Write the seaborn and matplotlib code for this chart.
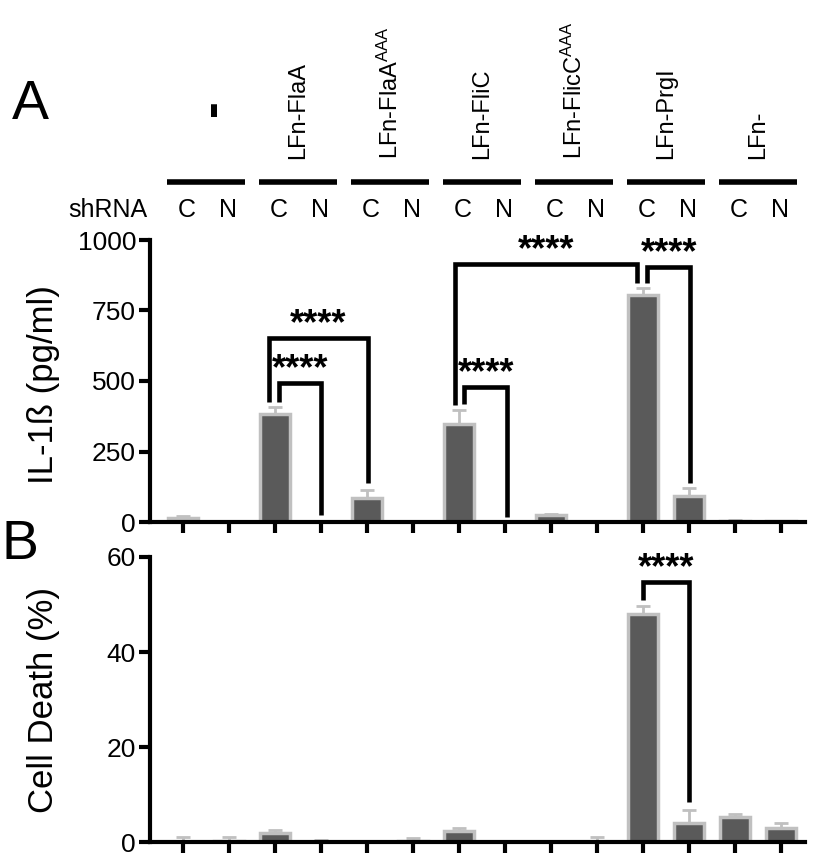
import matplotlib
matplotlib.use("Agg")
import matplotlib.pyplot as plt
import matplotlib.transforms as mtransforms
import seaborn as sns
import pandas as pd

sns.set_style("ticks")
plt.rcParams['font.family'] = ['Liberation Sans', 'DejaVu Sans']
plt.rcParams['mathtext.fontset'] = 'custom'
plt.rcParams['mathtext.rm'] = 'Liberation Sans'
plt.rcParams['mathtext.it'] = 'Liberation Sans'
for key in ['text.color', 'axes.labelcolor', 'xtick.color', 'ytick.color',
            'axes.edgecolor']:
    plt.rcParams[key] = 'black'

# ---------------- data ----------------
groups = ['-', 'LFn-FlaA', r'LFn-FlaA$^{\mathrm{AAA}}$', 'LFn-FliC',
          r'LFn-FlicC$^{\mathrm{AAA}}$', 'LFn-PrgI', 'LFn-']
shrna = ['C', 'N']
bars = [f"{g}|{s}" for g in range(7) for s in shrna]

il1b = [15, 0, 383, 0, 85, 0, 347, 0, 25, 0, 805, 92, 5, 3]
il1b_err = [5, 0, 25, 0, 28, 0, 50, 0, 5, 0, 25, 28, 2, 1]

death = [0.0, 0.3, 1.9, 0.0, 0.0, 0.3, 2.3, 0.0, 0.0, 0.0, 48.1, 4.0, 5.2, 3.0]
death_err = [1.0, 0.7, 0.6, 0.5, 0.0, 0.5, 0.6, 0.0, 0.0, 1.0, 1.5, 2.7, 0.8, 1.0]

il1b_ticks = [0, 250, 500, 750, 1000]
death_ticks = [0, 20, 40, 60]

# brackets: (x_left, x_right, y_top, y_left_bottom, y_right_bottom)
brackets_top = [
    (1.87, 4.02, 652, 425, 138),
    (2.09, 3.00, 493, 425, 25),
    (6.11, 7.05, 480, 420, 18),
    (5.92, 9.87, 915, 415, 847),
    (10.09, 11.03, 905, 847, 138),
]
brackets_bot = [
    (10.0, 11.0, 54.8, 51.0, 8.4),
]

FILL = '#5a5a5a'
EDGE = '#c0c0c0'

W, H = 819, 855
fig = plt.figure(figsize=(W / 100, H / 100), dpi=100)

def fax(l, r, t, b):
    return [l / W, 1 - b / H, (r - l) / W, (b - t) / H]

axA = fig.add_axes(fax(150, 805, 240, 522))
axB = fig.add_axes(fax(150, 805, 557, 842))


def draw(ax, vals, errs, ticks, ylim, brackets):
    df = pd.DataFrame({'bar': bars, 'val': vals})
    sns.barplot(data=df, x='bar', y='val', order=bars, ax=ax, color=FILL,
                edgecolor=EDGE, linewidth=2.5, width=0.66, saturation=1,
                errorbar=None)
    xs = [p.get_x() + p.get_width() / 2 for p in ax.patches]
    ax.errorbar(xs, vals, yerr=[[0] * len(errs), errs], fmt='none',
                ecolor=EDGE, elinewidth=2, capsize=5, capthick=2, zorder=1)
    for p in ax.patches:
        p.set_zorder(2)
    ax.set_xlim(-0.72, 13.52)
    ax.set_ylim(*ylim)
    ax.set_yticks(ticks)
    ax.set_yticklabels([str(t) for t in ticks], fontsize=19)
    ax.set_xticks(range(len(bars)))
    ax.set_xticklabels([])
    ax.set_xlabel('')
    ax.set_ylabel('')
    ax.tick_params(axis='both', direction='out', width=3, length=8,
                   color='black', labelcolor='black', pad=2)
    sns.despine(ax=ax)
    for s in ['left', 'bottom']:
        ax.spines[s].set_linewidth(3)
        ax.spines[s].set_color('black')
    ax.spines['left'].set_bounds(ylim[0], ticks[-1])
    for (xl, xr, yt, ylb, yrb) in brackets:
        ax.plot([xl, xl, xr, xr], [ylb, yt, yt, yrb], color='black', lw=3.3,
                solid_joinstyle='miter', solid_capstyle='butt',
                clip_on=False, zorder=5)
        ax.annotate('****', xy=((xl + xr) / 2, yt), xytext=(0, 2.5),
                    textcoords='offset points', ha='center', va='baseline',
                    fontsize=26, fontweight='bold', color='black',
                    annotation_clip=False)


draw(axA, il1b, il1b_err, il1b_ticks, (0, 1000), brackets_top)
draw(axB, death, death_err, death_ticks, (0, 60), brackets_bot)

fig.text(44 / W, 1 - 385 / H, 'IL-1ß (pg/ml)', rotation=90, ha='center',
         va='center', fontsize=25)
fig.text(44 / W, 1 - 700 / H, 'Cell Death (%)', rotation=90, ha='center',
         va='center', fontsize=25)

# header above panel A
trans = mtransforms.blended_transform_factory(axA.transData, axA.transAxes)
def ay(py):
    return (522 - py) / 282

for g, name in enumerate(groups):
    cx = 2 * g + 0.5
    if name == '-':
        axA.text(cx + 0.15, ay(108), '-', rotation=90, ha='center', va='center',
                 fontsize=36, fontweight='bold', transform=trans, clip_on=False)
    else:
        axA.text(cx, ay(159), name, rotation=90, ha='center', va='bottom',
                 fontsize=17, transform=trans, clip_on=False)
    axA.plot([cx - 0.85, cx + 0.85], [ay(182), ay(182)], color='black', lw=4,
             solid_capstyle='butt', transform=trans, clip_on=False)
    for k, s in enumerate(shrna):
        axA.text(2 * g + k + 0.1 * (1 - k) - 0.02, ay(210), s, ha='center',
                 va='center', fontsize=18, transform=trans, clip_on=False)

fig.text(68 / W, 1 - 210 / H, 'shRNA', ha='left', va='center', fontsize=18)
fig.text(30 / W, 1 - 105 / H, 'A', ha='center', va='center', fontsize=40)
fig.text(20 / W, 1 - 545 / H, 'B', ha='center', va='center', fontsize=40)

fig.savefig('out.png', dpi=100)
